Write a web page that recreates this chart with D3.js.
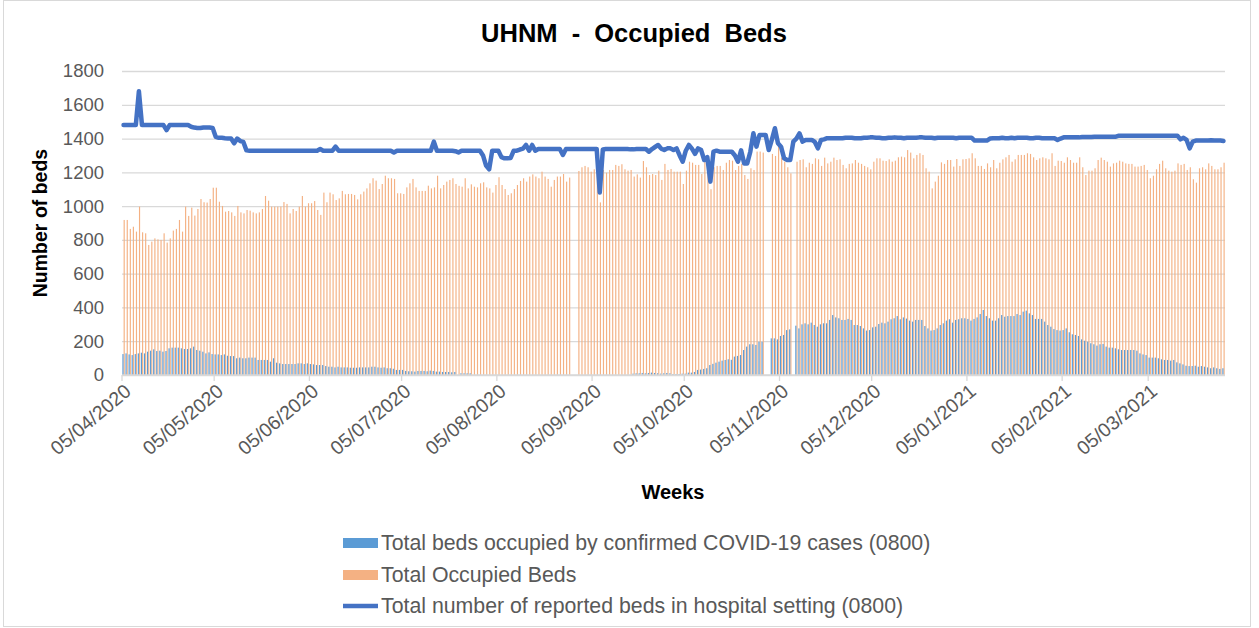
<!DOCTYPE html>
<html>
<head>
<meta charset="utf-8">
<script src="https://cdn.jsdelivr.net/npm/d3@7"></script>
<style>
  body { margin: 0; background: #fff; }
  text { font-family: "Liberation Sans", Arial, sans-serif; }
</style>
</head>
<body>
<div id="chart"></div>
<script>
// daily data from 05/04/2020
var startDate = new Date(2020, 3, 5);

// total number of reported beds (line)
var reportedBeds = [
  1480,1480,1480,1480,1480,1680,1480,1480,1480,1480,1480,1480,1480,1480,1450,1480,1480,1480,1480,1480,
  1480,1480,1470,1465,1462,1462,1465,1465,1465,1462,1410,1405,1405,1402,1400,1400,1372,1400,1385,1380,
  1330,1328,1328,1328,1328,1328,1328,1328,1328,1328,1328,1328,1328,1328,1328,1328,1328,1328,1328,1328,
  1328,1328,1328,1328,1338,1328,1328,1328,1328,1352,1328,1328,1328,1328,1328,1328,1328,1328,1328,1328,
  1328,1328,1328,1328,1328,1328,1328,1328,1318,1328,1328,1328,1328,1328,1328,1328,1328,1328,1328,1328,
  1328,1382,1328,1328,1328,1328,1328,1328,1325,1318,1328,1328,1328,1328,1328,1328,1328,1300,1240,1218,
  1328,1328,1328,1290,1283,1283,1285,1328,1328,1335,1340,1362,1328,1362,1328,1338,1338,1338,1338,1338,
  1338,1338,1338,1303,1338,1338,1338,1338,1338,1338,1338,1338,1338,1338,1338,1080,1335,1338,1338,1338,
  1338,1338,1338,1338,1338,1336,1336,1338,1338,1338,1338,1322,1338,1350,1362,1340,1332,1342,1342,1332,
  1342,1300,1263,1328,1362,1340,1309,1342,1332,1273,1290,1145,1322,1328,1322,1322,1322,1322,1322,1300,
  1263,1330,1253,1253,1322,1431,1352,1421,1421,1421,1332,1392,1461,1372,1352,1283,1273,1273,1382,1400,
  1431,1382,1392,1392,1392,1380,1342,1392,1395,1402,1402,1402,1402,1402,1402,1405,1405,1405,1402,1402,
  1402,1405,1405,1407,1407,1405,1405,1402,1402,1405,1405,1407,1405,1405,1402,1405,1405,1405,1405,1407,
  1407,1405,1405,1405,1402,1405,1405,1405,1405,1405,1405,1402,1405,1405,1405,1405,1405,1388,1388,1388,
  1388,1388,1400,1402,1402,1402,1405,1402,1402,1405,1402,1405,1405,1405,1405,1402,1402,1405,1405,1402,
  1402,1402,1402,1402,1392,1400,1407,1407,1407,1407,1407,1407,1409,1409,1409,1409,1411,1411,1411,1411,
  1411,1411,1411,1411,1417,1417,1417,1417,1417,1417,1417,1417,1417,1417,1417,1417,1417,1417,1417,1417,
  1417,1417,1417,1417,1395,1405,1392,1342,1382,1388,1388,1388,1388,1388,1390,1388,1388,1388,1386
];

// total occupied beds (orange bars)
var occupiedBeds = [
  918,918,865,878,849,997,845,839,770,790,809,803,800,839,784,809,855,865,918,849,
  997,942,991,944,983,1042,1023,1021,1042,1109,1109,1026,1001,967,971,963,942,1001,963,957,
  977,973,963,957,963,983,1060,1032,997,997,997,997,1024,1013,957,983,971,997,1060,997,
  1017,1017,1030,977,948,1080,1023,1080,1070,1036,1046,1090,1070,1072,1072,1066,1040,1070,1086,1105,
  1135,1165,1151,1101,1131,1180,1165,1165,1161,1076,1076,1072,1111,1135,1161,1111,1090,1090,1090,1121,
  1105,1111,1180,1105,1125,1145,1155,1165,1131,1120,1115,1165,1105,1129,1115,1111,1135,1141,1111,1105,
  1080,1125,1171,1125,1101,1066,1076,1101,1125,1149,1165,1145,1175,1188,1175,1165,1204,1175,1161,1115,
  1155,1175,1175,1190,1145,1169,null,null,1208,1230,1238,1230,1204,1218,1235,1022,1214,1198,1214,1214,
  1244,1238,1248,1218,1210,1214,1175,1188,1169,1267,1230,1184,1190,1184,1210,1155,1250,1214,1220,1204,
  1204,1204,1131,1210,1263,1257,1244,1244,1190,1263,1253,1100,1230,1238,1238,1214,1257,1273,1269,1214,
  1238,1250,1184,1161,1224,1214,1323,1323,1317,null,null,1309,1297,1382,1287,1263,1230,1194,null,1263,
  1273,1277,1230,1257,1250,1283,1277,1238,1287,1253,1263,1287,1273,1277,1244,1224,1250,1253,1273,1257,
  1250,1238,1230,1218,1263,1283,1283,1269,1267,1277,1263,1269,1289,1293,1289,1332,1317,1283,1303,1313,
  1303,1224,1204,1105,1145,1180,1259,1250,1273,1273,1234,1279,1238,1277,1279,1283,1313,1283,1238,1238,
  1220,1253,1230,1273,1224,1257,1277,1289,1303,1263,1277,1303,1303,1303,1313,1309,1289,1273,1283,1289,
  1283,1277,1313,1238,1269,1267,1257,1289,1273,1257,1257,1289,1230,1184,1210,1210,1224,1273,1287,1273,
  1263,1234,1253,1257,1269,1263,1253,1250,1250,1234,1234,1238,1244,1214,1165,1180,1218,1250,1269,1224,
  1210,1204,1210,1253,1244,1250,1214,1230,1159,1139,1224,1230,1218,1253,1238,1218,1218,1230,1257
];

// beds occupied by confirmed COVID-19 cases (blue bars)
var covidBeds = [
  124,128,122,118,124,128,132,128,138,144,152,142,144,138,142,158,162,162,162,158,
  154,154,158,168,148,144,138,128,134,124,122,122,118,122,114,112,112,99,103,99,
  99,103,103,103,89,89,89,89,79,99,73,69,65,65,65,65,65,69,69,65,
  69,65,63,59,59,59,53,49,49,45,49,45,45,45,43,43,43,45,45,45,
  45,49,49,45,43,45,40,40,37,30,30,30,24,22,22,20,24,24,24,22,
  26,24,20,20,18,18,18,16,18,null,10,10,10,10,null,null,null,null,null,null,
  null,null,null,null,null,null,null,null,null,null,null,null,null,null,null,null,null,null,null,null,
  null,null,null,null,null,null,null,null,null,null,null,null,null,null,null,null,null,null,null,null,
  null,null,null,null,null,null,8,10,10,12,10,12,14,12,10,8,10,12,10,6,
  6,6,8,8,14,14,18,30,32,36,40,59,66,73,79,85,89,93,90,109,
  113,118,148,168,182,182,178,197,197,null,null,217,217,211,231,237,266,270,null,292,
  276,300,306,300,310,296,286,300,306,306,326,355,341,336,326,326,332,326,296,296,
  290,276,263,266,282,286,302,310,306,316,330,336,349,330,341,334,322,316,326,326,
  326,290,276,263,266,276,296,306,322,330,310,326,330,336,336,332,322,332,341,361,
  385,349,336,322,322,336,355,345,349,349,349,361,355,375,381,365,355,332,332,332,
  316,296,286,272,266,263,266,276,253,241,237,231,211,203,197,188,182,174,182,184,
  168,162,162,158,152,148,148,148,148,148,144,128,122,118,103,103,103,99,93,89,
  89,85,89,75,69,63,55,53,53,55,49,53,49,45,40,45,40,36,40
];

var yTicks = [0, 200, 400, 600, 800, 1000, 1200, 1400, 1600, 1800];
var monthTicks = ["05/04/2020", "05/05/2020", "05/06/2020", "05/07/2020", "05/08/2020", "05/09/2020",
  "05/10/2020", "05/11/2020", "05/12/2020", "05/01/2021", "05/02/2021", "05/03/2021"];
var seriesNames = [
  "Total beds occupied by confirmed COVID-19 cases (0800)",
  "Total Occupied Beds",
  "Total number of reported beds in hospital setting (0800)"
];

drawChart();

function drawChart() {
  var n = Math.min(reportedBeds.length, occupiedBeds.length, covidBeds.length);
  var parse = d3.timeParse("%d/%m/%Y");

  var width = 1259, height = 628;
  var mLeft = 122, mRight = 1225, mTop = 71, mBottom = 375;

  var svg = d3.select("#chart").append("svg")
    .attr("width", width)
    .attr("height", height);

  // chart border
  svg.append("rect")
    .attr("x", 3.5).attr("y", 0.5)
    .attr("width", 1247).attr("height", 626)
    .attr("fill", "#fff")
    .attr("stroke", "#d9d9d9");

  var x = d3.scaleBand().domain(d3.range(n)).range([mLeft, mRight]);
  var y = d3.scaleLinear().domain([0, 1800]).range([mBottom, mTop]);

  // grid
  svg.append("g")
    .attr("transform", `translate(${mLeft},0)`)
    .call(d3.axisLeft(y).tickValues(yTicks).tickSize(-(mRight - mLeft)).tickFormat(""))
    .call(g => g.select(".domain").remove())
    .call(g => g.selectAll("line").attr("stroke", "#d9d9d9").attr("stroke-width", 1.3));

  // y labels
  svg.append("g")
    .attr("transform", `translate(${mLeft},0)`)
    .call(d3.axisLeft(y).tickValues(yTicks).tickSize(0).tickPadding(18).tickFormat(d3.format("d")))
    .call(g => g.select(".domain").remove())
    .call(g => g.selectAll("text")
      .attr("fill", "#595959")
      .style("font-size", "18.5px")
      .style("font-family", "'Liberation Sans', Arial, sans-serif"));

  // bars
  var bw = 1.15;
  svg.append("g").selectAll("rect")
    .data(occupiedBeds.slice(0, n).map((v, i) => ({ i: i, v: v })).filter(d => d.v != null))
    .enter().append("rect")
    .attr("x", d => x(d.i) + 1.6)
    .attr("y", d => y(d.v))
    .attr("width", bw)
    .attr("height", d => y(0) - y(d.v))
    .attr("fill", "#f4b183");

  svg.append("g").selectAll("rect")
    .data(covidBeds.slice(0, n).map((v, i) => ({ i: i, v: v })).filter(d => d.v != null))
    .enter().append("rect")
    .attr("x", d => x(d.i) + 0.4)
    .attr("y", d => y(d.v))
    .attr("width", bw)
    .attr("height", d => y(0) - y(d.v))
    .attr("fill", "#5b9bd5");

  // x axis
  var tickIdx = monthTicks.map(t => d3.timeDay.count(startDate, parse(t)));
  svg.append("line")
    .attr("x1", mLeft).attr("x2", mRight)
    .attr("y1", mBottom).attr("y2", mBottom)
    .attr("stroke", "#d9d9d9").attr("stroke-width", 1.3);
  svg.append("g").selectAll("line")
    .data(tickIdx)
    .enter().append("line")
    .attr("x1", d => x(d)).attr("x2", d => x(d))
    .attr("y1", mBottom).attr("y2", mBottom + 6)
    .attr("stroke", "#d9d9d9").attr("stroke-width", 1.3);
  svg.append("g").selectAll("text")
    .data(monthTicks)
    .enter().append("text")
    .attr("transform", (d, i) => `translate(${x(tickIdx[i]) + 6},${mBottom + 13}) rotate(-40)`)
    .attr("text-anchor", "end")
    .attr("dy", "0.35em")
    .attr("fill", "#595959")
    .style("font-size", "19.5px")
    .text(d => d);

  // line
  var line = d3.line()
    .x((d, i) => x(i) + x.bandwidth() / 2)
    .y(d => y(d));
  svg.append("path")
    .datum(reportedBeds.slice(0, n))
    .attr("fill", "none")
    .attr("stroke", "#4472c4")
    .attr("stroke-width", 4.5)
    .attr("stroke-linejoin", "round")
    .attr("stroke-linecap", "round")
    .attr("d", line);

  // titles
  svg.append("text")
    .attr("x", 634).attr("y", 42)
    .attr("text-anchor", "middle")
    .style("font-size", "25.5px").style("font-weight", "bold")
    .style("word-spacing", "7px")
    .text("UHNM - Occupied Beds");

  svg.append("text")
    .attr("transform", "translate(47,223) rotate(-90)")
    .attr("text-anchor", "middle")
    .style("font-size", "19.5px").style("font-weight", "bold")
    .text("Number of beds");

  svg.append("text")
    .attr("x", 673).attr("y", 499)
    .attr("text-anchor", "middle")
    .style("font-size", "20px").style("font-weight", "bold")
    .text("Weeks");

  // legend
  var legend = svg.append("g");
  var legY = [543, 575, 606];
  var legColor = ["#5b9bd5", "#f4b183", "#4472c4"];
  seriesNames.forEach(function(name, i) {
    if (i < 2) {
      legend.append("rect")
        .attr("x", 343).attr("y", legY[i] - 5)
        .attr("width", 35).attr("height", 10)
        .attr("fill", legColor[i]);
    } else {
      legend.append("line")
        .attr("x1", 343).attr("x2", 378)
        .attr("y1", legY[i]).attr("y2", legY[i])
        .attr("stroke", legColor[i]).attr("stroke-width", 4.5);
    }
    legend.append("text")
      .attr("x", 381).attr("y", legY[i])
      .attr("dy", "0.35em")
      .attr("fill", "#595959")
      .style("font-size", "21.3px")
      .text(name);
  });
}
</script>
</body>
</html>
